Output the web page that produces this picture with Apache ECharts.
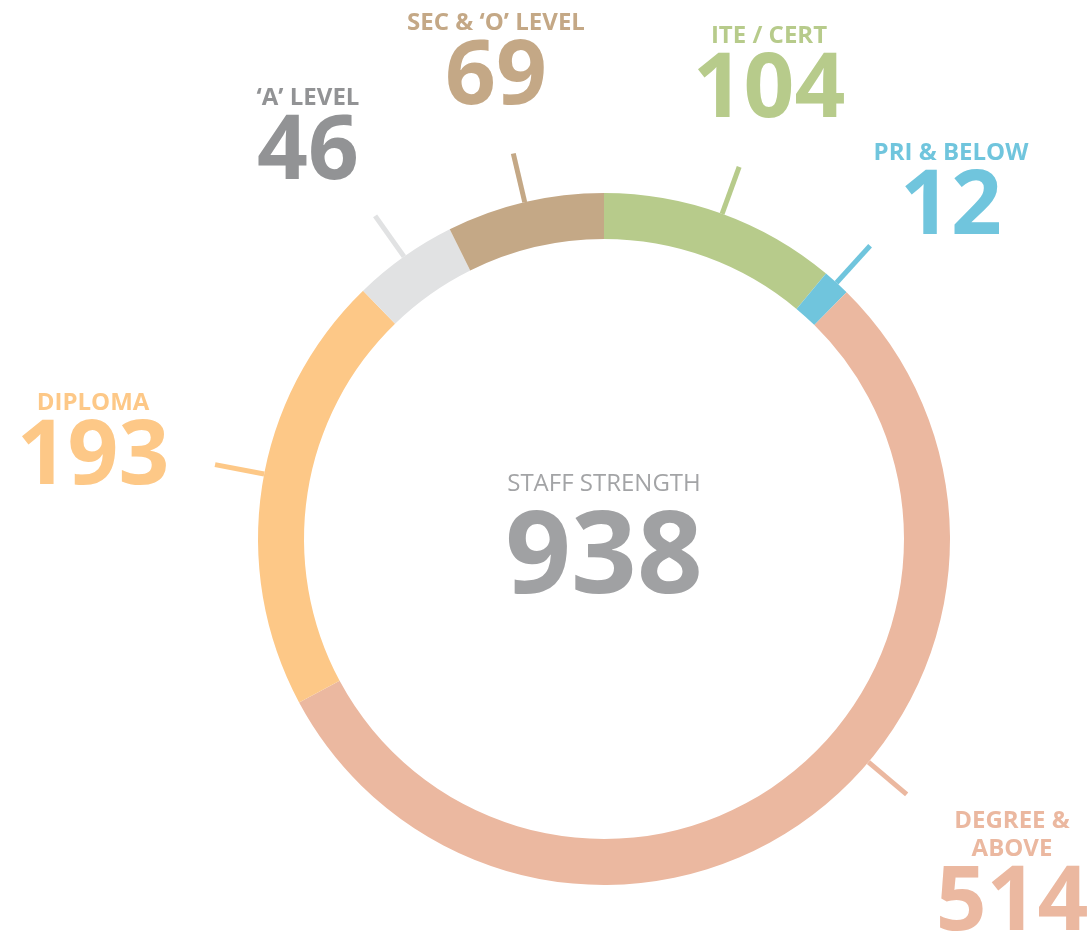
<!DOCTYPE html>
<html>
<head>
<meta charset="utf-8">
<title>Staff Strength</title>
<script src="https://cdn.jsdelivr.net/npm/echarts@6/dist/echarts.min.js"></script>
<style>
  html, body { margin: 0; padding: 0; background: #fff; }
  #chart { width: 1090px; height: 935px; }
</style>
</head>
<body>
<div id="chart"></div>
<script>
  // data, clockwise from 12 o'clock
  var categories = ['ITE / CERT', 'PRI & BELOW', 'DEGREE &\nABOVE', 'DIPLOMA', '\u2018A\u2019 LEVEL', 'SEC & \u2018O\u2019 LEVEL'];
  var values = [104, 12, 514, 193, 46, 69];
  var centerTitle = 'STAFF STRENGTH';

  var ringColors = ['#b7cb8b', '#70c5dd', '#ebb8a0', '#fdc887', '#e1e2e3', '#c4a886'];
  var textColors = ['#b7cb8b', '#70c5dd', '#ebb8a0', '#fdc887', '#929395', '#c4a886'];
  // label anchor (center x, top y) for each slice
  var labelPos = [[769, 22], [951, 139], [1012, 807], [93, 389], [308, 84], [496, 9]];
  // small rotation of the tick (degrees, clockwise) away from the slice middle
  var tickShift = [0, 0, -13, 2, 0, 0];

  var total = values.reduce(function (a, b) { return a + b; }, 0);
  var font = '"Open Sans", "Noto Sans", sans-serif';
  var cx = 604, cy = 539;

  function rotatePts(pts, deg) {
    if (!pts || !deg) return pts;
    var a = deg * Math.PI / 180, c = Math.cos(a), s = Math.sin(a);
    return pts.map(function (p) {
      var dx = p[0] - cx, dy = p[1] - cy;
      return [cx + dx * c - dy * s, cy + dx * s + dy * c];
    });
  }

  var chart = echarts.init(document.getElementById('chart'));
  chart.setOption({
    animation: false,
    graphic: [
      {
        type: 'text',
        style: {
          text: centerTitle, x: 604, y: 484, align: 'center', verticalAlign: 'middle',
          fill: '#a3a4a6', fontFamily: font, fontSize: 24, fontWeight: 'normal'
        }
      },
      {
        type: 'text',
        style: {
          text: String(total), x: 604, y: 560, align: 'center', verticalAlign: 'middle',
          fill: '#a0a1a3', fontFamily: font, fontSize: 115, fontWeight: 'bold'
        }
      }
    ],
    series: [
      {
        type: 'pie',
        center: [cx, cy],
        radius: [300, 346],
        startAngle: 90,
        clockwise: true,
        avoidLabelOverlap: false,
        silent: true,
        data: categories.map(function (name, i) {
          return {
            name: name,
            value: values[i],
            itemStyle: { color: ringColors[i] },
            label: {
              rich: {
                n: { color: textColors[i], fontFamily: font, fontSize: 24, fontWeight: 'bold', lineHeight: 28, align: 'center' },
                v: { color: textColors[i], fontFamily: font, fontSize: 89, fontWeight: 'bold', lineHeight: 84, align: 'center' }
              }
            }
          };
        }),
        label: {
          show: true,
          position: 'outside',
          formatter: function (p) {
            return '{n|' + p.name + '}\n{v|' + p.value + '}';
          }
        },
        labelLine: {
          show: true,
          length: 50,
          length2: 0,
          smooth: false,
          lineStyle: { width: 5 }
        },
        labelLayout: function (params) {
          var i = params.dataIndex;
          return {
            x: labelPos[i][0],
            y: labelPos[i][1],
            align: 'center',
            verticalAlign: 'top',
            labelLinePoints: rotatePts(params.labelLinePoints, tickShift[i])
          };
        }
      }
    ]
  });
</script>
</body>
</html>
